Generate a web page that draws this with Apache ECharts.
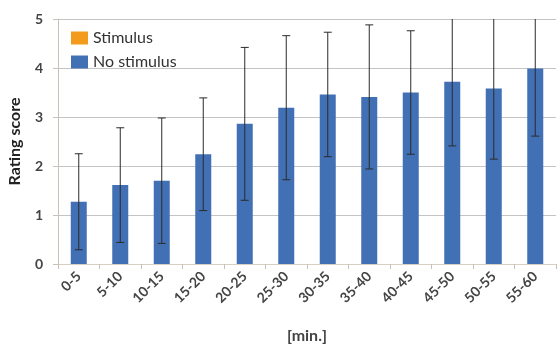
<!DOCTYPE html>
<html>
<head>
<meta charset="utf-8">
<script src="https://cdn.jsdelivr.net/npm/echarts@6/dist/echarts.min.js"></script>
<style>
  html, body { margin: 0; padding: 0; background: #fff; }
  #chart { width: 557px; height: 346px; }
</style>
</head>
<body>
<div id="chart"></div>
<script>
// Time windows (minutes) and rating scores
const categories = ['0-5', '5-10', '10-15', '15-20', '20-25', '25-30', '30-35', '35-40', '40-45', '45-50', '50-55', '55-60'];
const noStimulusMean = [1.27, 1.61, 1.70, 2.24, 2.86, 3.19, 3.46, 3.41, 3.50, 3.72, 3.58, 3.99];
const noStimulusSD = [0.98, 1.17, 1.28, 1.15, 1.56, 1.47, 1.27, 1.47, 1.26, 1.31, 1.44, 1.38];
const stimulusMean = [null, null, null, null, null, null, null, null, null, null, null, null];
const yTicks = [0, 1, 2, 3, 4, 5];

const Y_MIN = yTicks[0];
const Y_MAX = yTicks[yTicks.length - 1];
const FONT = 'Lato, "Open Sans", sans-serif';

const errorData = noStimulusMean.map((m, i) => [i, m - noStimulusSD[i], m + noStimulusSD[i]]);

const chart = echarts.init(document.getElementById('chart'), null, { renderer: 'canvas' });

chart.setOption({
  animation: false,
  backgroundColor: '#ffffff',
  grid: { left: 58, right: 1, top: 19, bottom: 82, containLabel: false, outerBoundsMode: 'none' },
  legend: {
    left: 66, top: 25, orient: 'vertical',
    itemWidth: 17, itemHeight: 13, itemGap: 8,
    icon: 'rect',
    textStyle: { fontFamily: FONT, fontSize: 16, color: '#333' },
    data: ['Stimulus', 'No stimulus']
  },
  xAxis: {
    type: 'category',
    data: categories,
    name: '[min.]',
    nameLocation: 'middle',
    nameGap: 64,
    nameTextStyle: { fontFamily: FONT, fontSize: 16, fontWeight: 'bold', color: '#444' },
    axisLine: { lineStyle: { color: '#d9cfc2', width: 1 } },
    axisTick: { show: true, length: 5, lineStyle: { color: '#c8c0b6' } },
    axisLabel: { rotate: 45, margin: 10, fontFamily: FONT, fontSize: 14, fontWeight: 'bold', color: '#444' },
    splitLine: { show: false }
  },
  yAxis: {
    type: 'value',
    min: Y_MIN, max: Y_MAX, interval: 1,
    name: 'Rating score',
    nameLocation: 'middle',
    nameGap: 35,
    nameTextStyle: { fontFamily: FONT, fontSize: 16, fontWeight: 'bold', color: '#222' },
    axisLine: { show: true, lineStyle: { color: '#c9c2b8' } },
    axisTick: { show: true, length: 5, lineStyle: { color: '#c9c2b8' } },
    axisLabel: { margin: 15, fontFamily: FONT, fontSize: 14, fontWeight: 'bold', color: '#444' },
    splitLine: { lineStyle: { color: '#c4c4c4', width: 1 } }
  },
  series: [
    {
      name: 'Stimulus', type: 'bar', data: stimulusMean,
      barWidth: 16, barGap: '-100%',
      itemStyle: { color: '#f29b1d' }
    },
    {
      name: 'No stimulus', type: 'bar', data: noStimulusMean,
      barWidth: 16, barGap: '-100%',
      itemStyle: { color: '#4270b5' }
    },
    {
      name: 'error', type: 'custom',
      data: errorData,
      z: 10,
      renderItem: function (params, api) {
        const idx = api.value(0);
        const lo = Math.max(api.value(1), Y_MIN);
        const hiRaw = api.value(2);
        const hi = Math.min(hiRaw, Y_MAX);
        const pLo = api.coord([idx, lo]);
        const pHi = api.coord([idx, hi]);
        const half = 4;
        const style = { stroke: '#2b2b2b', lineWidth: 1 };
        const children = [
          { type: 'line', shape: { x1: pLo[0], y1: pLo[1], x2: pHi[0], y2: pHi[1] }, style: style },
          { type: 'line', shape: { x1: pLo[0] - half, y1: pLo[1], x2: pLo[0] + half, y2: pLo[1] }, style: style }
        ];
        if (hiRaw <= Y_MAX) {
          children.push({ type: 'line', shape: { x1: pHi[0] - half, y1: pHi[1], x2: pHi[0] + half, y2: pHi[1] }, style: style });
        }
        return { type: 'group', children: children };
      }
    }
  ]
});
</script>
</body>
</html>
